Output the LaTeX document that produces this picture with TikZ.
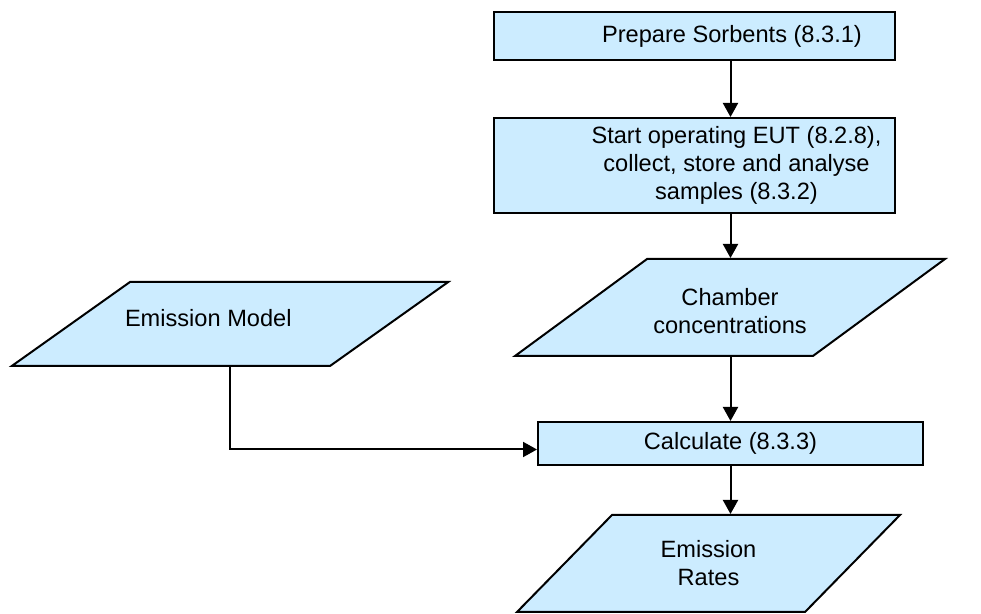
\documentclass[tikz,border=0pt]{standalone}
\usepackage{fontspec}
\setmainfont{Liberation Sans}
\usetikzlibrary {arrows.meta, positioning}
\usetikzlibrary {shapes.geometric}
\definecolor{boxblue}{RGB}{204,236,255}
\tikzset{
    >={Triangle[length=7pt, width=7.5pt]},
    box/.style={draw, line width=1pt, fill=boxblue, inner sep=0pt,
        font=\fontsize{11.8}{14}\selectfont},
    slanted/.style={box, trapezium, trapezium stretches body,
        trapezium left angle=#1, trapezium right angle=180-#1},
    flow/.style={->, line width=1pt}
}

\begin{document}
\begin{tikzpicture}[x=0.5pt, y=-0.5pt]
    \useasboundingbox (0, 0) rectangle (981, 614);
    % boxes
    \node[box, minimum width=200.5pt, minimum height=24pt] (P) at (694.5, 36)
        {\hspace*{37.5pt}Prepare Sorbents (8.3.1)};
    \node[box, minimum width=200.5pt, minimum height=47.5pt, align=center] (S) at (694.5, 165.5)
        {\hspace*{42pt}Start operating EUT (8.2.8),\\
         \hspace*{42pt}collect, store and analyse\\
         \hspace*{42pt}samples (8.3.2)};
    \node[box, minimum width=192.5pt, minimum height=21.5pt] (K) at (730.5, 443.5)
        {Calculate (8.3.3)};
    % parallelograms
    \node[slanted=36.3, minimum width=215pt] (C) at (730, 307.5)
        {\parbox[c][48.5pt][c]{80pt}{\centering\vspace*{4pt}Chamber\\concentrations}};
    \node[slanted=35.4, minimum width=218pt] (M) at (230, 324)
        {\parbox[c][42pt][c]{100pt}{\hspace*{-2.5pt}Emission Model\par\vspace*{6pt}}};
    \node[slanted=45.6, minimum width=191.5pt] (R) at (708.5, 563.5)
        {\parbox[c][48.5pt][c]{90pt}{\centering Emission\\Rates}};
    % arrows
    \draw[flow] (P.south -| K) -- (S.north -| K);
    \draw[flow] (S.south -| K) -- (C.north -| K);
    \draw[flow] (C.south -| K) -- (K.north);
    \draw[flow] (K.south) -- (R.north -| K);
    \draw[flow] (M.south) |- ([yshift=-3pt]K.west);
\end{tikzpicture}
\end{document}
